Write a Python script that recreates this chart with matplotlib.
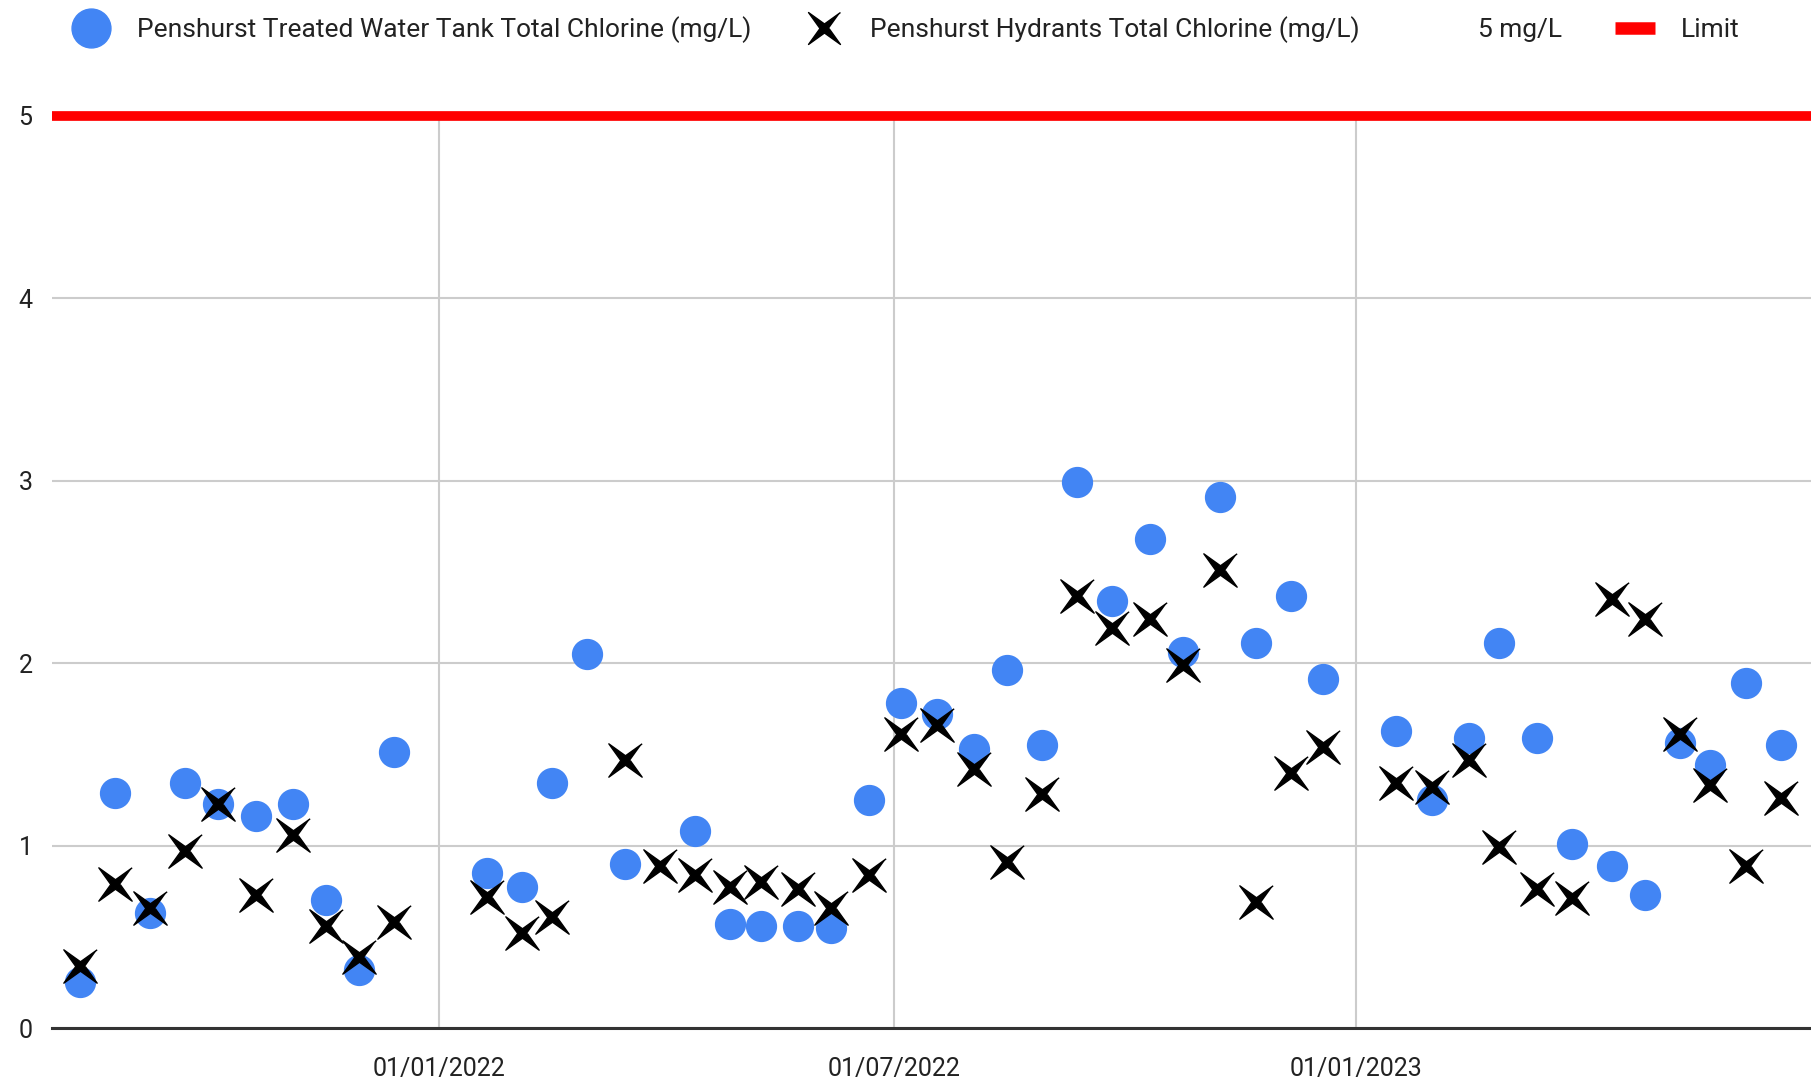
import numpy as np
import pandas as pd
import matplotlib
matplotlib.use("Agg")
import matplotlib.pyplot as plt
import matplotlib.dates as mdates
from matplotlib.lines import Line2D

plt.rcParams["font.family"] = ["Roboto", "DejaVu Sans"]

# sampling dates
dates = [
    "2021-08-11", "2021-08-25", "2021-09-08", "2021-09-22", "2021-10-05",
    "2021-10-20", "2021-11-04", "2021-11-17", "2021-11-30", "2021-12-14",
    "2022-01-20", "2022-02-03", "2022-02-15", "2022-03-01", "2022-03-16",
    "2022-03-30", "2022-04-13", "2022-04-27", "2022-05-09", "2022-05-24",
    "2022-06-06", "2022-06-21", "2022-07-04", "2022-07-18", "2022-08-02",
    "2022-08-15", "2022-08-29", "2022-09-12", "2022-09-26", "2022-10-11",
    "2022-10-24", "2022-11-08", "2022-11-22", "2022-12-06", "2022-12-19",
    "2023-01-17", "2023-01-31", "2023-02-15", "2023-02-27", "2023-03-14",
    "2023-03-28", "2023-04-13", "2023-04-26", "2023-05-10", "2023-05-22",
    "2023-06-05", "2023-06-19",
]

tank = [
    0.25, 1.29, 0.63, 1.34, 1.23,
    1.16, 1.23, 0.70, 0.32, 1.51,
    0.85, 0.77, 1.34, 2.05, 0.90,
    np.nan, 1.08, 0.57, 0.56, 0.56,
    0.55, 1.25, 1.78, 1.72, 1.53,
    1.96, 1.55, 2.99, 2.34, 2.68,
    2.06, 2.91, 2.11, 2.37, 1.91,
    1.63, 1.25, 1.59, 2.11, 1.59,
    1.01, 0.89, 0.73, 1.56, 1.44,
    1.89, 1.55,
]

hydrants = [
    0.34, 0.79, 0.66, 0.97, 1.23,
    0.73, 1.06, 0.56, 0.39, 0.58,
    0.72, 0.52, 0.61, np.nan, 1.47,
    0.89, 0.84, 0.77, 0.80, 0.76,
    0.66, 0.84, 1.61, 1.66, 1.42,
    0.91, 1.28, 2.37, 2.19, 2.24,
    1.99, 2.51, 0.69, 1.40, 1.54,
    1.34, 1.32, 1.47, 0.99, 0.76,
    0.71, 2.35, 2.24, 1.61, 1.33,
    0.89, 1.26,
]

limit = 5
x_ticks = ["2022-01-01", "2022-07-01", "2023-01-01"]
labels = ["Penshurst Treated Water Tank Total Chlorine (mg/L)",
          "Penshurst Hydrants Total Chlorine (mg/L)", "5 mg/L", "Limit"]

BLUE = "#4285F4"
RED = "#FF0000"
GRID = "#cccccc"
TXT = "#222222"


def star_x(inner=0.2):
    # 4 pointed star turned into an X, like the sheets marker
    pts = []
    for i in range(8):
        ang = np.pi / 4 + i * np.pi / 4
        r = 1.0 if i % 2 == 0 else inner
        pts.append((r * np.cos(ang), r * np.sin(ang)))
    return pts


d = pd.to_datetime(dates)
ticks = pd.to_datetime(x_ticks)

fig = plt.figure(figsize=(18.11, 10.86), dpi=100)
ax = fig.add_axes([0.0287, 0.0534, 0.9713, 0.8402])

ax.plot(d, tank, ls="none", marker="o", ms=21.5, color=BLUE, zorder=3)
ax.plot(d, hydrants, ls="none", marker=star_x(), ms=24, color="black", zorder=4)
ax.axhline(limit, color=RED, lw=7, zorder=5, clip_on=False, solid_capstyle="butt")

ax.set_xlim(pd.Timestamp("2021-07-31"), pd.Timestamp("2023-07-01"))
ax.set_ylim(0, 5)
ax.set_yticks(range(0, 6))
ax.set_xticks(ticks)
ax.xaxis.set_major_formatter(mdates.DateFormatter("%d/%m/%Y"))
ax.grid(True, color=GRID, lw=1.5)
ax.set_axisbelow(True)
for s in ["top", "right", "left"]:
    ax.spines[s].set_visible(False)
ax.spines["bottom"].set_color("#333333")
ax.spines["bottom"].set_linewidth(2.2)
ax.spines["bottom"].set_zorder(6)
ax.tick_params(length=0, labelsize=18, colors=TXT)
ax.tick_params(axis="x", pad=21)
ax.tick_params(axis="y", pad=14)

handles = [
    Line2D([], [], ls="none", marker="o", ms=28, color=BLUE),
    Line2D([], [], ls="none", marker=star_x(), ms=23, color="black"),
    Line2D([], [], ls="none"),
    Line2D([], [], color=RED, lw=9, solid_capstyle="butt"),
]
fig.legend(handles, labels, loc="center left", bbox_to_anchor=(0.026, 0.973),
           ncol=4, frameon=False, fontsize=19, labelcolor=TXT,
           handlelength=1.5, handletextpad=1.0, columnspacing=2.0)

fig.savefig("out.png", dpi=100)
